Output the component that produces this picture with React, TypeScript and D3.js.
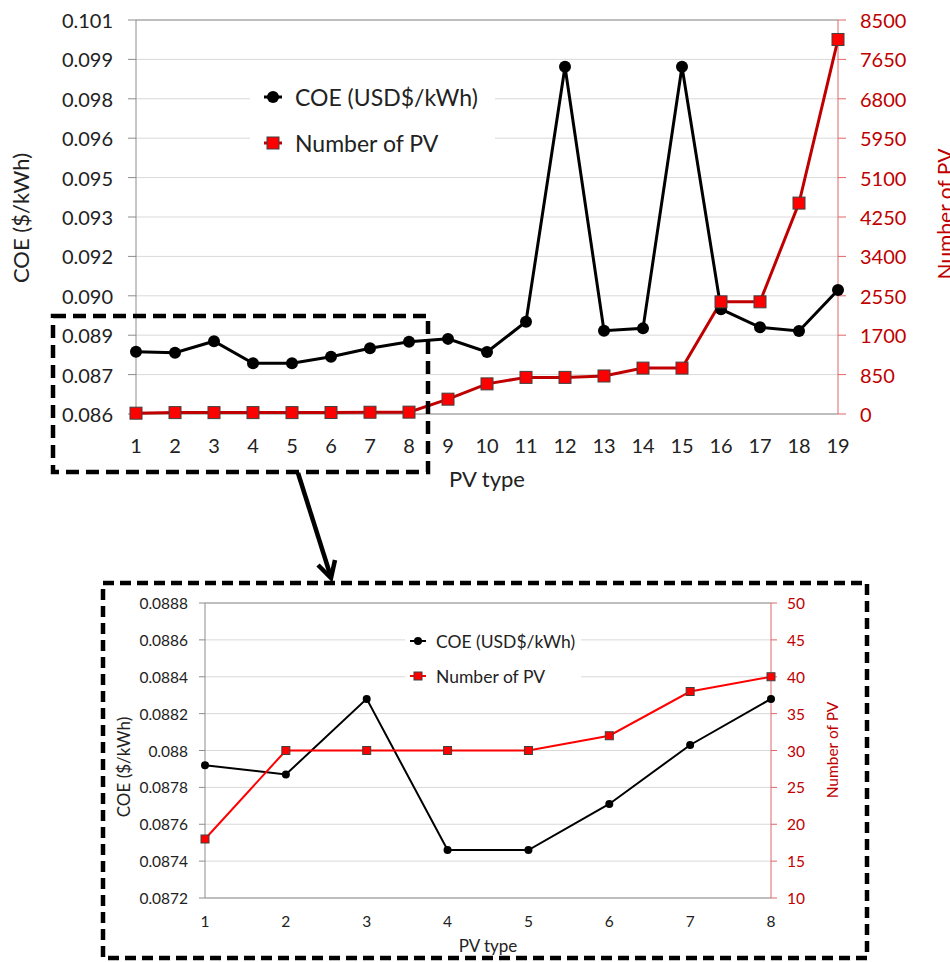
import React from "react";
import * as d3 from "d3";

// ---------- data ----------
const pvTypes = [1, 2, 3, 4, 5, 6, 7, 8, 9, 10, 11, 12, 13, 14, 15, 16, 17, 18, 19];
const coeAll = [0.08837, 0.08833, 0.08877, 0.08793, 0.08793, 0.08818, 0.0885, 0.08875, 0.08886, 0.08836,
  0.08951, 0.09922, 0.08917, 0.08926, 0.09922, 0.08999, 0.0893, 0.08916, 0.09072];
const pvCountAll = [18, 30, 30, 30, 30, 32, 38, 40, 320, 650, 790, 790, 820, 990, 990, 2420, 2420, 4550, 8080];

const zoomTypes = [1, 2, 3, 4, 5, 6, 7, 8];
const coeZoom = [0.08792, 0.08787, 0.08828, 0.08746, 0.08746, 0.08771, 0.08803, 0.08828];
const pvCountZoom = [18, 30, 30, 30, 30, 32, 38, 40];

const topLeftTicks = [0.086, 0.0875, 0.089, 0.0905, 0.092, 0.0935, 0.095, 0.0965, 0.098, 0.0995, 0.101];
const topLeftLabels = ["0.086", "0.087", "0.089", "0.090", "0.092", "0.093", "0.095", "0.096", "0.098", "0.099", "0.101"];
const topRightTicks = [0, 850, 1700, 2550, 3400, 4250, 5100, 5950, 6800, 7650, 8500];

const botLeftTicks = [0.0872, 0.0874, 0.0876, 0.0878, 0.088, 0.0882, 0.0884, 0.0886, 0.0888];
const botLeftLabels = ["0.0872", "0.0874", "0.0876", "0.0878", "0.088", "0.0882", "0.0884", "0.0886", "0.0888"];
const botRightTicks = [10, 15, 20, 25, 30, 35, 40, 45, 50];

const legendLabels = ["COE (USD$/kWh)", "Number of PV"];

const FONT = "Lato, 'Open Sans', sans-serif";

type PanelProps = {
  x0: number; x1: number; y0: number; y1: number;
  types: number[]; coe: number[]; pv: number[];
  leftTicks: number[]; leftLabels: string[]; rightTicks: number[];
  leftDomain: [number, number]; rightDomain: [number, number];
  s: {
    tick: number; title: number; rtitle: number; legend: number;
    lw: number; r: number; sq: number; red: string; tickLen: number;
    leftLabelX: number; rightLabelX: number; xLabelY: number; xTitleY: number;
    yTitleX: number; yTitleY: number; rTitleX: number; rTitleY: number;
    legBox: [number, number, number, number]; legX: number; legY: number[]; legTextX: number;
    legLine: number;
  };
};

function Panel({ x0, x1, y0, y1, types, coe, pv, leftTicks, leftLabels, rightTicks, leftDomain, rightDomain, s }: PanelProps) {
  const x = d3.scaleLinear().domain([types[0], types[types.length - 1]]).range([x0, x1]);
  const yl = d3.scaleLinear().domain(leftDomain).range([y1, y0]);
  const yr = d3.scaleLinear().domain(rightDomain).range([y1, y0]);
  const lineCoe = d3.line<number>().x((_, i) => x(types[i])).y((d) => yl(d));
  const linePv = d3.line<number>().x((_, i) => x(types[i])).y((d) => yr(d));
  return (
    <g fontFamily={FONT}>
      {leftTicks.map((t, i) =>
        i > 0 && i < leftTicks.length - 1 ? (
          <line key={"g" + i} x1={x0} x2={x1} y1={yl(t)} y2={yl(t)} stroke="#d9d9d9" strokeWidth={1} />
        ) : null
      )}
      {/* legend background */}
      <rect x={s.legBox[0]} y={s.legBox[1]} width={s.legBox[2]} height={s.legBox[3]} fill="#fff" />
      {/* frame */}
      <line x1={x0} x2={x1} y1={y0} y2={y0} stroke="#7f7f7f" strokeWidth={1} />
      <line x1={x0} x2={x1} y1={y1} y2={y1} stroke="#7f7f7f" strokeWidth={1} />
      <line x1={x0} x2={x0} y1={y0} y2={y1} stroke="#8c8c8c" strokeWidth={1} />
      <line x1={x1} x2={x1} y1={y0} y2={y1} stroke="#e06666" strokeWidth={1} />
      {leftTicks.map((t, i) => (
        <g key={"lt" + i}>
          <line x1={x0 - s.tickLen} x2={x0} y1={yl(t)} y2={yl(t)} stroke="#8c8c8c" />
          <text x={s.leftLabelX} y={yl(t)} textAnchor="end" dominantBaseline="central" fontSize={s.tick} fill="#222">
            {leftLabels[i]}
          </text>
        </g>
      ))}
      {rightTicks.map((t, i) => (
        <g key={"rt" + i}>
          <line x1={x1} x2={x1 + s.tickLen} y1={yr(t)} y2={yr(t)} stroke="#e06666" />
          <text x={s.rightLabelX} y={yr(t)} textAnchor="start" dominantBaseline="central" fontSize={s.tick} fill={s.red === "#ff0000" ? "#c00000" : "#c00000"}>
            {t}
          </text>
        </g>
      ))}
      {types.map((t) => (
        <text key={"xt" + t} x={x(t)} y={s.xLabelY} textAnchor="middle" dominantBaseline="central" fontSize={s.tick} fill="#222">
          {t}
        </text>
      ))}
      <text x={(x0 + x1) / 2 - 0} y={s.xTitleY} textAnchor="middle" dominantBaseline="central" fontSize={s.title} fill="#222">
        PV type
      </text>
      <text transform={`translate(${s.yTitleX},${s.yTitleY}) rotate(-90)`} textAnchor="middle" dominantBaseline="central" fontSize={s.title} fill="#222">
        COE ($/kWh)
      </text>
      <text transform={`translate(${s.rTitleX},${s.rTitleY}) rotate(-90)`} textAnchor="middle" dominantBaseline="central" fontSize={s.rtitle} fill="#c00000">
        Number of PV
      </text>
      {/* series */}
      <path d={lineCoe(coe) || ""} fill="none" stroke="#000" strokeWidth={s.lw} />
      <path d={linePv(pv) || ""} fill="none" stroke={s.red} strokeWidth={s.lw} />
      {coe.map((v, i) => (
        <circle key={"c" + i} cx={x(types[i])} cy={yl(v)} r={s.r} fill="#000" />
      ))}
      {pv.map((v, i) => (
        <rect key={"s" + i} x={x(types[i]) - s.sq / 2} y={yr(v) - s.sq / 2} width={s.sq} height={s.sq} fill="#ff0000" stroke="#404040" strokeWidth={1} />
      ))}
      {/* legend */}
      <line x1={s.legX - s.legLine} x2={s.legX + s.legLine} y1={s.legY[0]} y2={s.legY[0]} stroke="#000" strokeWidth={s.lw} />
      <circle cx={s.legX} cy={s.legY[0]} r={s.r} fill="#000" />
      <line x1={s.legX - s.legLine} x2={s.legX + s.legLine} y1={s.legY[1]} y2={s.legY[1]} stroke={s.red} strokeWidth={s.lw} />
      <rect x={s.legX - s.sq / 2} y={s.legY[1] - s.sq / 2} width={s.sq} height={s.sq} fill="#ff0000" stroke="#404040" strokeWidth={1} />
      {legendLabels.map((l, i) => (
        <text key={"lg" + i} x={s.legTextX} y={s.legY[i]} dominantBaseline="central" fontSize={s.legend} fill="#222">
          {l}
        </text>
      ))}
    </g>
  );
}

export default function App() {
  return (
    <svg width={950} height={962} style={{ position: "absolute", left: 0, top: 0, display: "block", background: "#fff" }}>
      <rect x={0} y={0} width={950} height={962} fill="#fff" />
      <Panel
        x0={136} x1={838} y0={20} y1={414}
        types={pvTypes} coe={coeAll} pv={pvCountAll}
        leftTicks={topLeftTicks} leftLabels={topLeftLabels} rightTicks={topRightTicks}
        leftDomain={[0.086, 0.101]} rightDomain={[0, 8500]}
        s={{
          tick: 20, title: 22, rtitle: 21, legend: 23, lw: 3, r: 6, sq: 12, red: "#c00000", tickLen: 8,
          leftLabelX: 113, rightLabelX: 860, xLabelY: 445, xTitleY: 478,
          yTitleX: 20, yTitleY: 218, rTitleX: 944, rTitleY: 214,
          legBox: [250, 74, 245, 92], legX: 273, legY: [97, 143], legTextX: 295, legLine: 9,
        }}
      />
      <Panel
        x0={205} x1={771} y0={603} y1={898}
        types={zoomTypes} coe={coeZoom} pv={pvCountZoom}
        leftTicks={botLeftTicks} leftLabels={botLeftLabels} rightTicks={botRightTicks}
        leftDomain={[0.0872, 0.0888]} rightDomain={[10, 50]}
        s={{
          tick: 15.5, title: 17, rtitle: 15.5, legend: 17.5, lw: 2, r: 4, sq: 8, red: "#ff0000", tickLen: 6,
          leftLabelX: 188, rightLabelX: 787, xLabelY: 921, xTitleY: 945,
          yTitleX: 123, yTitleY: 767, rTitleX: 832, rTitleY: 750,
          legBox: [405, 624, 176, 70], legX: 418, legY: [641, 676], legTextX: 436, legLine: 8,
        }}
      />
      {/* dashed highlight boxes and arrow */}
      <rect x={53} y={316} width={375} height={156} fill="none" stroke="#000" strokeWidth={4.5} strokeDasharray="13 7" />
      <rect x={103} y={583} width={764} height={375} fill="none" stroke="#000" strokeWidth={4.5} strokeDasharray="11 6" />
      <line x1={298} y1={473} x2={330} y2={574} stroke="#000" strokeWidth={4.5} />
      <polyline points="318,565 331,578 335,560" fill="none" stroke="#000" strokeWidth={4.5} strokeLinejoin="miter" />
    </svg>
  );
}
